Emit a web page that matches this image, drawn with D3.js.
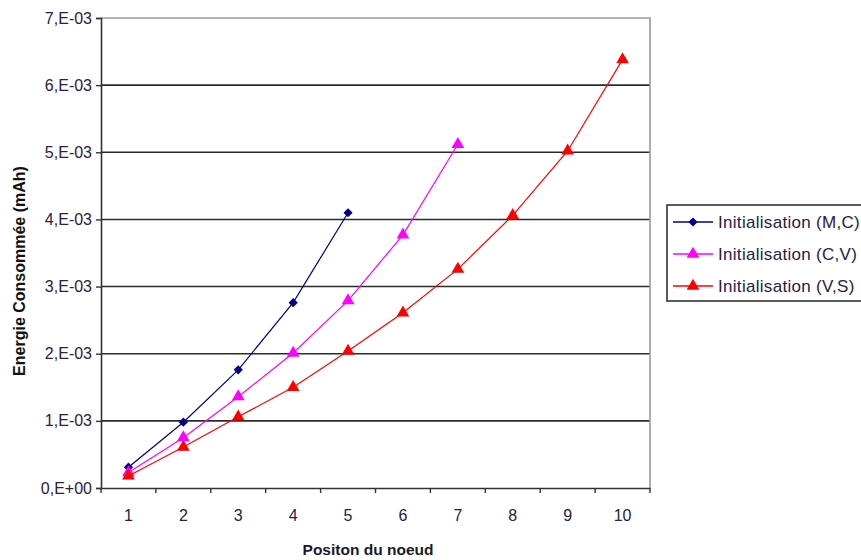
<!DOCTYPE html>
<html>
<head>
<meta charset="utf-8">
<script src="https://cdn.jsdelivr.net/npm/d3@7"></script>
<style>
  html, body { margin: 0; padding: 0; background: #ffffff; }
  svg { display: block; font-family: Arial, "Liberation Sans", sans-serif; }
</style>
</head>
<body>
<svg id="chart" width="861" height="560"></svg>
<script>
const categories = [1, 2, 3, 4, 5, 6, 7, 8, 9, 10];
const yTickValues = [0, 0.001, 0.002, 0.003, 0.004, 0.005, 0.006, 0.007];
const yTickLabels = ["0,E+00", "1,E-03", "2,E-03", "3,E-03", "4,E-03", "5,E-03", "6,E-03", "7,E-03"];
const seriesNames = ["Initialisation (M,C)", "Initialisation (C,V)", "Initialisation (V,S)"];
const seriesMC = [0.00031, 0.00098, 0.00176, 0.00276, 0.00410];
const seriesCV = [0.00023, 0.00075, 0.00136, 0.00201, 0.00279, 0.00377, 0.00512];
const seriesVS = [0.00018, 0.00061, 0.00106, 0.00150, 0.00204, 0.00261, 0.00326, 0.00406, 0.00502, 0.00638];
const xTitle = "Positon du noeud";
const yTitle = "Energie Consommée (mAh)";

const series = [
  { name: seriesNames[0], values: seriesMC, color: "#000080", marker: "diamond" },
  { name: seriesNames[1], values: seriesCV, color: "#ff00ff", marker: "triangle" },
  { name: seriesNames[2], values: seriesVS, color: "#ff0000", marker: "triangle" }
];

const svg = d3.select("#chart");
const pLeft = 101, pRight = 650, pTop = 18, pBottom = 488;
const textColor = "#2a2040";

const x = d3.scaleBand().domain(categories).range([pLeft, pRight]).padding(0);
const y = d3.scaleLinear().domain([0, 0.007]).range([pBottom, pTop]);

svg.append("rect").attr("x", pLeft).attr("y", pTop).attr("width", pRight - pLeft).attr("height", pBottom - pTop)
  .attr("fill", "#ffffff");

svg.append("g").selectAll("line").data(yTickValues.filter(v => v > 0 && v < 0.007)).join("line")
  .attr("x1", pLeft).attr("x2", pRight)
  .attr("y1", d => y(d)).attr("y2", d => y(d))
  .attr("stroke", "#2b2b2b").attr("stroke-width", 1.6);

svg.append("path")
  .attr("d", `M${pLeft},${y(0.007)}H${pRight}V${pBottom}`)
  .attr("fill", "none").attr("stroke", "#9a9a9a").attr("stroke-width", 1.6);

const yAxis = d3.axisLeft(y).tickValues(yTickValues)
  .tickFormat((d, i) => yTickLabels[i]).tickSize(5).tickPadding(4);
const gy = svg.append("g").attr("transform", `translate(${pLeft},0)`).call(yAxis);
gy.select(".domain").attr("stroke", "#333").attr("stroke-width", 1.6);
gy.selectAll(".tick line").attr("stroke", "#333").attr("stroke-width", 1.4);
gy.selectAll(".tick text").attr("fill", textColor).attr("font-size", 16)
  .attr("font-family", "Arial, 'Liberation Sans', sans-serif");

const xAxis = d3.axisBottom(x).tickSize(0).tickPadding(22);
const gx = svg.append("g").attr("transform", `translate(0,${pBottom})`).call(xAxis);
gx.select(".domain").attr("stroke", "#333").attr("stroke-width", 1.6);
gx.selectAll(".tick text").attr("fill", textColor).attr("font-size", 16)
  .attr("font-family", "Arial, 'Liberation Sans', sans-serif");
const boundaries = categories.map(c => x(c)).concat([x(categories[categories.length - 1]) + x.bandwidth()]);
svg.append("g").selectAll("line").data(boundaries).join("line")
  .attr("x1", d => d).attr("x2", d => d)
  .attr("y1", pBottom).attr("y2", pBottom + 5)
  .attr("stroke", "#333").attr("stroke-width", 1.4);

const line = d3.line().x((d, i) => x(categories[i]) + x.bandwidth() / 2).y(d => y(d));
const diamond = d3.symbol().type(d3.symbolSquare).size(42);
const triangle = d3.symbol().type(d3.symbolTriangle).size(70);
const markerPath = m => m === "diamond" ? diamond() : triangle();
const markerRot = m => m === "diamond" ? " rotate(45)" : "";

series.forEach(s => {
  svg.append("path").datum(s.values).attr("d", line)
    .attr("fill", "none").attr("stroke", s.color).attr("stroke-width", 1.2);
  svg.append("g").selectAll("path").data(s.values).join("path")
    .attr("d", markerPath(s.marker))
    .attr("transform", (d, i) => `translate(${x(categories[i]) + x.bandwidth() / 2},${y(d)})${markerRot(s.marker)}`)
    .attr("fill", s.color);
});

svg.append("text").attr("x", 368).attr("y", 555)
  .attr("text-anchor", "middle").attr("font-size", 15.5).attr("font-weight", "bold")
  .attr("fill", "#1a1a2a").text(xTitle);
svg.append("text").attr("transform", `translate(25,${(pTop + pBottom) / 2 + 18}) rotate(-90)`)
  .attr("text-anchor", "middle").attr("font-size", 16).attr("font-weight", "bold")
  .attr("fill", "#111").text(yTitle);

const lg = svg.append("g");
lg.append("rect").attr("x", 667).attr("y", 205).attr("width", 220).attr("height", 96)
  .attr("fill", "#ffffff").attr("stroke", "#333").attr("stroke-width", 1.6);
const rowY = [222, 254, 286];
series.forEach((s, i) => {
  lg.append("line").attr("x1", 673).attr("x2", 713).attr("y1", rowY[i]).attr("y2", rowY[i])
    .attr("stroke", s.color).attr("stroke-width", 1.4);
  lg.append("path").attr("d", markerPath(s.marker))
    .attr("transform", `translate(693,${rowY[i]})${markerRot(s.marker)}`).attr("fill", s.color);
  lg.append("text").attr("x", 718).attr("y", rowY[i]).attr("dy", "0.35em")
    .attr("font-size", 17).attr("letter-spacing", 0.3).attr("fill", textColor).text(s.name);
});
</script>
</body>
</html>
